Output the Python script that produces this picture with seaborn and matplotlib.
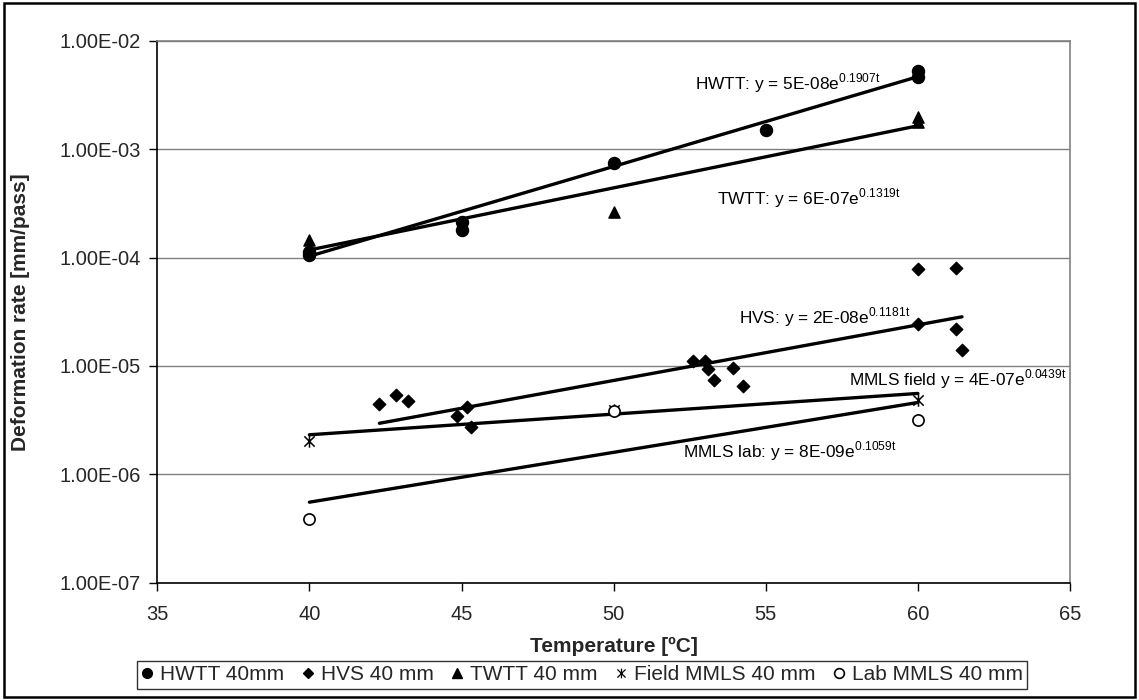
import numpy as np
import pandas as pd
import matplotlib
matplotlib.use("Agg")
import matplotlib.pyplot as plt
import seaborn as sns
from matplotlib.ticker import FixedLocator, FuncFormatter, NullLocator
from matplotlib.patches import Rectangle
from matplotlib.path import Path

# ---------------- data ----------------
hwtt_t = [40, 40, 45, 45, 50, 55, 60, 60]
hwtt_v = [1.05e-4, 1.12e-4, 2.14e-4, 1.79e-4, 7.4e-4, 1.5e-3, 5.2e-3, 4.6e-3]

twtt_t = [40, 40, 50, 60, 60]
twtt_v = [1.45e-4, 1.22e-4, 2.64e-4, 1.99e-3, 1.79e-3]

hvs_t = [42.3, 42.83, 43.24, 44.86, 45.17, 45.3, 52.62, 53.0, 53.11, 53.3,
         53.91, 54.24, 60.0, 60.0, 61.25, 61.25, 61.45]
hvs_v = [4.45e-6, 5.35e-6, 4.74e-6, 3.47e-6, 4.21e-6, 2.71e-6, 1.11e-5, 1.11e-5,
         9.3e-6, 7.4e-6, 9.5e-6, 6.5e-6, 7.84e-5, 2.44e-5, 8.0e-5, 2.2e-5, 1.4e-5]

field_t = [40, 50, 60]
field_v = [2.04e-6, 3.92e-6, 4.84e-6]

lab_t = [40, 50, 60]
lab_v = [3.85e-7, 3.8e-6, 3.17e-6]

# trendline equations y = a * exp(b t) (as printed on the chart)
trend_names = ["HWTT", "TWTT", "HVS", "MMLS field", "MMLS lab"]
trend_a = [5e-8, 6e-7, 2e-8, 4e-7, 8e-9]
trend_b = [0.1907, 0.1319, 0.1181, 0.0439, 0.1059]
trend_t0 = [40, 40, 42.3, 40, 40]
trend_t1 = [60, 60, 61.45, 60, 60]

trend_labels = [
    r"HWTT: y = 5E-08e$^{\mathregular{0.1907t}}$",
    r"TWTT: y = 6E-07e$^{\mathregular{0.1319t}}$",
    r"HVS: y = 2E-08e$^{\mathregular{0.1181t}}$",
    r"MMLS field y = 4E-07e$^{\mathregular{0.0439t}}$",
    r"MMLS lab: y = 8E-09e$^{\mathregular{0.1059t}}$",
]
label_pos_t = [52.68, 53.39, 54.13, 57.75, 52.29]
label_pos_v = [4.07e-3, 3.54e-4, 2.84e-5, 7.5e-6, 1.64e-6]

legend_labels = ["HWTT 40mm", "HVS 40 mm", "TWTT 40 mm", "Field MMLS 40 mm", "Lab MMLS 40 mm"]

y_ticks = [1e-7, 1e-6, 1e-5, 1e-4, 1e-3, 1e-2]
x_ticks = [35, 40, 45, 50, 55, 60, 65]

# ---------------- style ----------------
sns.set_theme(style="white")
plt.rcParams["font.family"] = ["Liberation Sans", "DejaVu Sans"]
plt.rcParams["mathtext.fontset"] = "custom"
plt.rcParams["mathtext.rm"] = "Liberation Sans"

# Excel-style star marker: an X with a vertical bar
star = Path([(-1, -1), (1, 1), (-1, 1), (1, -1), (0, -1.2), (0, 1.2)],
            [Path.MOVETO, Path.LINETO, Path.MOVETO, Path.LINETO, Path.MOVETO, Path.LINETO])

fig = plt.figure(figsize=(11.39, 7.0), dpi=100)
ax = fig.add_axes([157.3 / 1139, 1 - 582.7 / 700, (1070 - 157.3) / 1139, (582.7 - 40.7) / 700])
ax.set_yscale("log")

# trendlines
for a, b, t0, t1 in zip(trend_a, trend_b, trend_t0, trend_t1):
    tt = np.linspace(t0, t1, 50)
    df_tr = pd.DataFrame({"t": tt, "v": a * np.exp(b * tt)})
    sns.lineplot(data=df_tr, x="t", y="v", ax=ax, color="black", lw=2.4,
                 legend=False, zorder=3)

# scatter series
handles = []
series = [
    (hwtt_t, hwtt_v, "o", 75, "black", "black", 1.0),
    (hvs_t, hvs_v, "D", 40, "black", "black", 1.0),
    (twtt_t, twtt_v, "^", 65, "black", "black", 1.0),
    (field_t, field_v, star, 80, "black", "black", 1.1),
    (lab_t, lab_v, "o", 65, "white", "black", 1.2),
]
for (tt, vv, mk, s, fc, ec, lw), lab in zip(series, legend_labels):
    df = pd.DataFrame({"t": tt, "v": vv})
    sns.scatterplot(data=df, x="t", y="v", ax=ax, marker=mk, s=s, color=fc,
                    edgecolor=ec, linewidth=lw, zorder=4, legend=False)
    handles.append(plt.Line2D([], [], ls="none", marker=mk,
                              markersize=7 if mk != "D" else 5.5,
                              markerfacecolor=fc, markeredgecolor=ec,
                              markeredgewidth=lw if mk is not star else 0.9,
                              label=lab))

# annotations
for txt, tx, vy in zip(trend_labels, label_pos_t, label_pos_v):
    ax.text(tx, vy, txt, fontsize=12.4, ha="left", va="center", color="black")

# axes
ax.set_xlim(35, 65)
ax.set_ylim(1e-7, 1e-2)
ax.xaxis.set_major_locator(FixedLocator(x_ticks))
ax.yaxis.set_major_locator(FixedLocator(y_ticks))
ax.yaxis.set_minor_locator(NullLocator())
ax.yaxis.set_major_formatter(FuncFormatter(lambda v, p: f"{v:.2E}"))
ax.grid(axis="y", which="major", color="#808080", lw=1.0)
ax.grid(axis="x", visible=False)
ax.set_axisbelow(True)
for side in ["top", "right"]:
    ax.spines[side].set_color("#808080")
    ax.spines[side].set_linewidth(1.2)
for side in ["left", "bottom"]:
    ax.spines[side].set_color("black")
    ax.spines[side].set_linewidth(1.2)
ax.tick_params(axis="both", which="major", direction="out", length=6, width=1,
               color="black", labelsize=14.5, left=True, bottom=True)
ax.tick_params(axis="y", pad=6)
ax.tick_params(axis="x", pad=10)

narrow = ["Liberation Sans Narrow", "Liberation Sans", "DejaVu Sans"]
ax.set_xlabel("Temperature [ºC]", fontsize=15, fontweight="bold", family=narrow)
ax.set_ylabel("Deformation rate [mm/pass]", fontsize=15, fontweight="bold", family=narrow)
ax.xaxis.set_label_coords(0.5, -0.1)
ax.yaxis.set_label_coords(-0.139, 0.5)

leg = fig.legend(handles=handles, loc="center", ncol=5,
                 bbox_to_anchor=(582 / 1139, 1 - 675 / 700),
                 fontsize=15, frameon=True, fancybox=False, shadow=False,
                 handlelength=0.6, handletextpad=0.3, columnspacing=0.85,
                 borderpad=0.2, borderaxespad=0)
leg.get_frame().set_edgecolor("black")
leg.get_frame().set_linewidth(1.0)

# outer border
fig.patches.append(Rectangle((4 / 1139, 3 / 700), 1 - 8 / 1139, 1 - 6 / 700,
                             transform=fig.transFigure, fill=False,
                             edgecolor="black", lw=1.8))

fig.savefig("out.png", dpi=100)
